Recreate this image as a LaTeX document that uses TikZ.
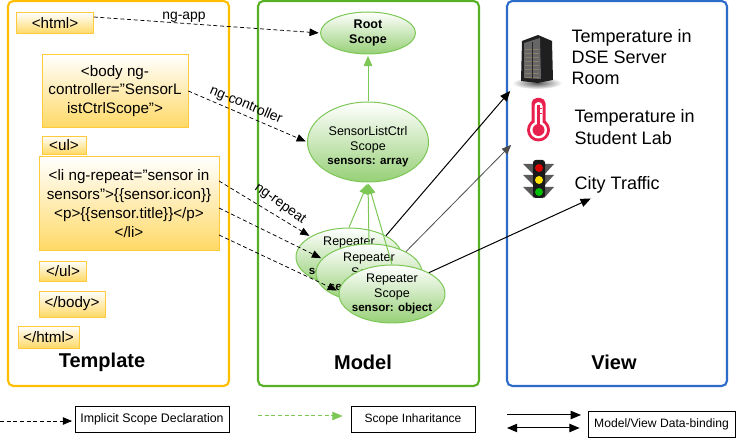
\documentclass[tikz,border=0pt]{standalone}
\usepackage{fontspec}
\setmainfont{Liberation Sans}
\usetikzlibrary{shapes,arrows}
\definecolor{tagline}{HTML}{FFCB3D}
\definecolor{tagfill}{HTML}{FFD966}
\definecolor{scopeline}{HTML}{7CC756}
\definecolor{scopefill}{HTML}{97D077}
\definecolor{tempcol}{HTML}{FFBF00}
\definecolor{modelcol}{HTML}{58B026}
\definecolor{viewcol}{HTML}{2D6BC9}
\definecolor{thermcol}{HTML}{E8204E}
\definecolor{rackcol}{HTML}{8A7E68}
\newcommand{\scopevar}[1]{{\fontsize{8.7}{10.7}\selectfont\bfseries #1}}
\tikzstyle{every picture}=[x=.75pt, y=-.75pt, >=triangle 45, shorten >=1pt]
\tikzstyle{panel}=[line width=1.6pt, rounded corners=4pt]
\tikzstyle{tagbox}=[draw=tagline, top color=white, bottom color=tagfill, inner sep=0pt,%
	align=center, font=\fontsize{11.4}{14.1}\selectfont]
\tikzstyle{scope}=[draw=scopeline, ellipse, top color=white, bottom color=scopefill, inner sep=0pt,%
	align=center, line width=.75pt, font=\fontsize{9.4}{10.7}\selectfont]
\tikzstyle{repeater}=[scope, inner xsep=-4pt, inner ysep=-2pt, minimum width=79.5pt, minimum height=43.5pt]
\tikzstyle{legend}=[draw, inner sep=0pt, line width=.6pt]
\tikzstyle{implicit}=[->, densely dashed, line width=.55pt]
\tikzstyle{inherit}=[->, scopeline, line width=.75pt]
\tikzstyle{title}=[font=\fontsize{15}{18}\selectfont\bfseries]
\tikzstyle{viewtext}=[anchor=west, align=left, font=\fontsize{13.5}{15.9}\selectfont]
\tikzstyle{binding}=[font=\fontsize{10.4}{11}\selectfont]

\begin{document}
\begin{tikzpicture}
	\useasboundingbox (0,0) rectangle (736,438);

	% the three panels
	\draw[panel, tempcol] (8,1) rectangle (229,386);
	\draw[panel, modelcol] (258,1) rectangle (479,386);
	\draw[panel, viewcol] (507,1) rectangle (727,386);
	\node[title] (T) at (102,362) {Template};
	\node[title] (M) at (363,362) {Model};
	\node[title] (V) at (614,362) {View};

	% template
	\node[tagbox, minimum width=57.75pt, minimum height=15.75pt] (html) at (55,23) {<html>};
	\node[tagbox, minimum width=109.5pt, minimum height=54.75pt] (body) at (115,91) {<body ng-\\controller="SensorL\\istCtrlScope">};
	\node[tagbox, minimum width=33pt, minimum height=13.5pt] (ul) at (64,145) {<ul>};
	\node[tagbox, minimum width=135pt, minimum height=70.5pt] (li) at (129,203.5) {<li ng-repeat="sensor in\\sensors">\{\{sensor.icon\}\}\\<p>\{\{sensor.title\}\}</p>\\</li>};
	\node[tagbox, minimum width=35.25pt, minimum height=15pt] (eul) at (63,271) {</ul>};
	\node[tagbox, minimum width=49.5pt, minimum height=19.5pt] (ebody) at (72,304) {</body>};
	\node[tagbox, minimum width=45.75pt, minimum height=16.5pt] (ehtml) at (48.5,337) {</html>};
	\coordinate (li1) at (219,181);
	\coordinate (li2) at (219,208);
	\coordinate (li3) at (219,235);

	% model
	\node[scope, minimum width=71.25pt, minimum height=31.5pt] (root) at (368,33) {\textbf{Root}\\\textbf{Scope}};
	\node[scope, minimum width=90.75pt, minimum height=60pt] (ctrl) at (368,142) {\rule{0pt}{14pt}SensorListCtrl\\Scope\\\scopevar{sensors: array}};
	\draw[inherit] (ctrl) -- (root);
	\node[repeater] (R1) at (349,257) {Repeater\\Scope\\\scopevar{sensor: object}};
	\draw[inherit] (R1.90) -- (ctrl.south);
	\node[repeater] (R2) at (369,273) {Repeater\\Scope\\\scopevar{sensor: object}};
	\draw[inherit] (R2.90) -- (ctrl.south);
	\draw[implicit] (li1) -- (R1.152);
	\draw[implicit] (li2) -- (R2.163);
	\coordinate (R3in) at (338,291);
	\draw[implicit] (li3) -- (R3in);
	\node[repeater] (R3) at (392,294) {Repeater\\Scope\\\scopevar{sensor: object}};
	\draw[inherit] (R3.90) -- (ctrl.south);
	\draw[implicit] (html.east |- 0,17) -- (root.west);
	\draw[implicit] (body.east) -- (ctrl.west);
	\node[binding] (app) at (184,17) {ng-app};
	\node[binding, rotate=-23] (con) at (246,105) {ng-controller};
	\node[binding, rotate=-36] (rep) at (280,204) {ng-repeat};

	% view, icons are drawn directly
	\shade[inner color=black!65, outer color=white] (537,83) ellipse (25 and 6);
	\fill[black!88] (522,41) -- (538,35) -- (552,41) -- (553,80) -- (538,83) -- (521,81) -- cycle;
	\fill[black!60] (524,43) -- (540,38) -- (541,79) -- (524,78) -- cycle;
	\foreach \y in {50,54,...,78}
		\draw[rackcol, line width=.75pt] (525,\y) -- (540,\y);
	\draw[black!85, line width=.6pt] (532,42) -- (532,79);
	\fill[thermcol] (538.5,130) circle (11.5);
	\fill[thermcol, rounded corners=4pt] (531.5,98) rectangle (545.5,128);
	\fill[white] (538.5,130) circle (8.5);
	\fill[white, rounded corners=3pt] (534.5,102) rectangle (542.5,128);
	\fill[thermcol] (538.5,130) circle (6);
	\fill[thermcol] (537,105) rectangle (539.5,128);
	\fill[thermcol] (539,108) rectangle (542,109.5);
	\fill[thermcol] (539,113) rectangle (542,114.5);
	\foreach \y in {164,175,187} {
		\fill[black!65] (523,\y) -- (534,\y) -- (534,\y+11) -- cycle;
		\fill[black!65] (554,\y) -- (544,\y) -- (544,\y+11) -- cycle;
	}
	\fill[black!90, rounded corners=2pt] (533,160) rectangle (545,198);
	\foreach \y/\c in {168/red!85!black, 180/yellow!85!orange, 192/green!75!black}
		\fill[\c] (539,\y) circle (4);
	\node[viewtext] (S1) at (567,57) {Temperature in\\DSE Server\\Room};
	\node[viewtext] (S2) at (570,127) {Temperature in\\Student Lab};
	\node[viewtext] (S3) at (570,185) {City Traffic};
	\coordinate (v1) at (511,90);
	\coordinate (v2) at (512,144);
	\coordinate (v3) at (592,198);
	\draw[->, line width=.75pt] (R1.30) -- (v1);
	\draw[->, black!70, line width=.6pt] (R2.30) -- (v2);
	\draw[->, line width=.75pt] (R3.30) -- (v3);

	% legend
	\node[legend, font=\fontsize{9.3}{11}\selectfont, minimum width=115.5pt, minimum height=19.5pt] (L1) at (152,419) {Implicit Scope Declaration};
	\coordinate (l1) at (0,421);
	\draw[implicit, shorten >=2pt] (l1) -- (L1.west |- l1);
	\node[legend, font=\fontsize{9}{11}\selectfont, minimum width=93pt, minimum height=19.5pt] (L2) at (413,419) {Scope Inharitance};
	\coordinate (l2) at (258,416);
	\draw[inherit, densely dashed, shorten >=6pt] (l2) -- (L2.west |- l2);
	\node[legend, font=\fontsize{9.1}{11}\selectfont, minimum width=110.25pt, minimum height=19.5pt] (L3) at (661.5,424) {Model/View Data-binding};
	\coordinate (l3) at (507,415);
	\coordinate (l4) at (507,428);
	\draw[->, line width=.75pt, shorten >=5pt] (l3) -- (L3.west |- l3);
	\draw[<->, line width=.75pt, shorten >=6pt] (l4) -- (L3.west |- l4);
\end{tikzpicture}
\end{document}
